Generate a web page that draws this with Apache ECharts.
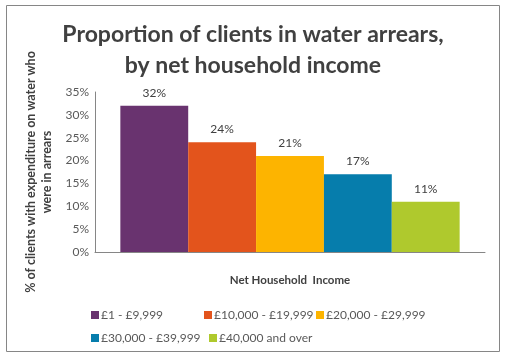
<!DOCTYPE html>
<html>
<head>
<meta charset="utf-8">
<script src="https://cdn.jsdelivr.net/npm/echarts@6/dist/echarts.min.js"></script>
<style>html,body{margin:0;padding:0;background:#fff}#c{width:506px;height:360px}</style>
</head>
<body>
<div id="c"></div>
<script>
const seriesNames = ['£1 - £9,999', '£10,000 - £19,999', '£20,000 - £29,999', '£30,000 - £39,999', '£40,000 and over'];
const values = [32, 24, 21, 17, 11];
const colors = ['#69336F', '#E3541C', '#FDB400', '#067DAC', '#AFC92D'];
const yTicks = [0, 5, 10, 15, 20, 25, 30, 35];
const titleText = 'Proportion of clients in water arrears,\nby net household income';
const yName = '% of clients with expenditure on water who\nwere in arrears';
const xName = 'Net Household  Income';

const FONT = 'Lato';
const chart = echarts.init(document.getElementById('c'), null, {renderer: 'canvas'});
const legendPos = [[86, 304], [199, 304], [311, 304], [86, 327], [204, 327]];
chart.setOption({
  animation: false,
  color: colors,
  title: {
    text: titleText, left: 'center', top: 14,
    textStyle: {fontFamily: FONT, fontSize: 23, fontWeight: 'bold', color: '#404040', lineHeight: 31}
  },
  legend: seriesNames.map((n, i) => ({
    data: [n], left: legendPos[i][0], top: legendPos[i][1],
    icon: 'rect', itemWidth: 8, itemHeight: 8, itemGap: 0,
    textStyle: {fontFamily: FONT, fontSize: 12, color: '#595959', padding: [0, 0, 0, -3]}
  })),
  grid: {left: 95, right: 21, top: 92, bottom: 108},
  xAxis: {
    type: 'category', data: [''],
    name: xName, nameLocation: 'middle', nameGap: 22,
    nameTextStyle: {fontFamily: FONT, fontSize: 11.5, fontWeight: 'bold', color: '#404040'},
    axisLine: {lineStyle: {color: '#868686'}}, axisTick: {show: false}, axisLabel: {show: false}
  },
  yAxis: {
    type: 'value', min: yTicks[0], max: yTicks[yTicks.length - 1], interval: 5,
    name: yName, nameLocation: 'middle', nameGap: 38, nameRotate: 90,
    nameTextStyle: {fontFamily: FONT, fontSize: 12.5, fontWeight: 'bold', color: '#404040', lineHeight: 16},
    axisLine: {show: true, lineStyle: {color: '#868686'}}, axisTick: {show: false},
    splitLine: {show: false},
    axisLabel: {formatter: v => v + '%', fontFamily: FONT, fontSize: 12, color: '#595959', margin: 6}
  },
  series: seriesNames.map((n, i) => ({
    name: n, type: 'bar', data: [values[i]],
    barGap: '0%', barCategoryGap: '13%',
    itemStyle: {color: colors[i]},
    label: {show: true, position: 'top', distance: 7, formatter: p => p.value + '%',
      fontFamily: FONT, fontSize: 12, color: '#404040'}
  })),
  graphic: [{
    type: 'rect', shape: {x: 6.5, y: 5.5, width: 493, height: 346},
    style: {fill: 'none', stroke: '#868686', lineWidth: 1}, silent: true
  }]
});
</script>
</body>
</html>
